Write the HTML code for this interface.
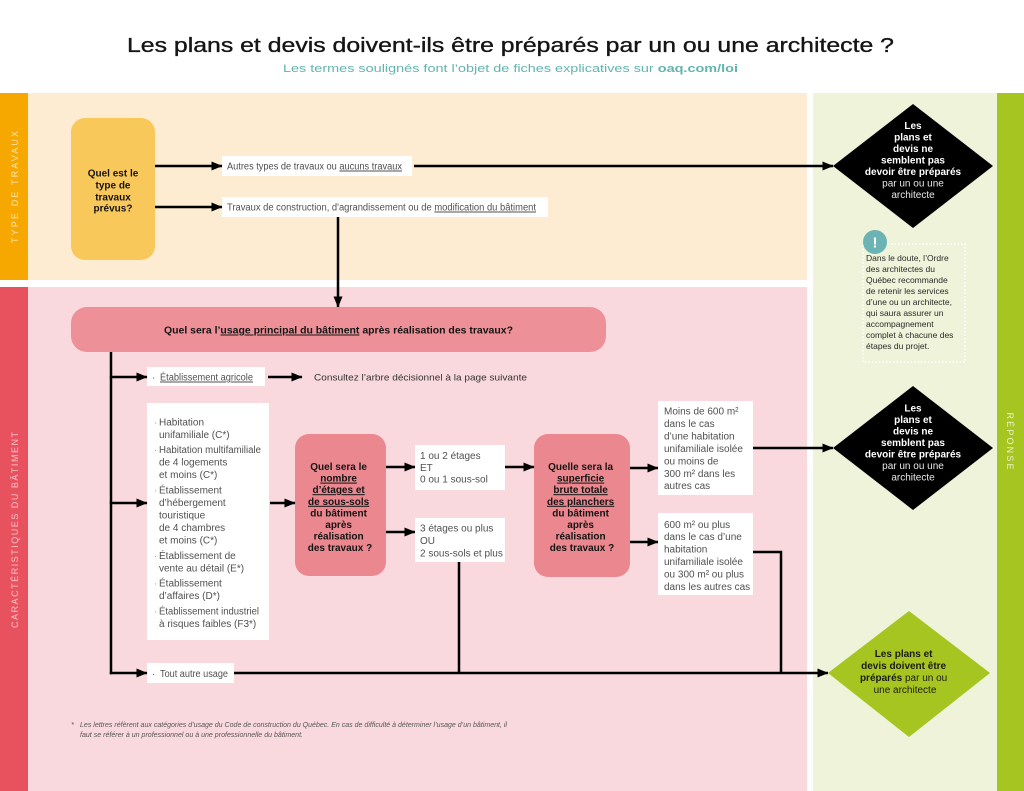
<!DOCTYPE html>
<html><head><meta charset="utf-8">
<style>
html,body{margin:0;padding:0;background:#fff;}
svg{display:block;}
.t{font-family:"Liberation Sans",sans-serif;}
.g{font-family:"Liberation Sans",sans-serif;font-size:10px;fill:#505050;}
.b{font-family:"Liberation Sans",sans-serif;font-size:10px;font-weight:bold;fill:#141414;text-anchor:middle;}
.dw{font-family:"Liberation Sans",sans-serif;font-size:10px;font-weight:bold;fill:#fff;text-anchor:middle;}
.dl{font-family:"Liberation Sans",sans-serif;font-size:10px;fill:#e8e8e8;text-anchor:middle;}
.u{text-decoration:underline;}
</style></head><body>
<svg width="1024" height="791" viewBox="0 0 1024 791" xmlns="http://www.w3.org/2000/svg">
<defs>
<marker id="a" markerUnits="userSpaceOnUse" markerWidth="11" markerHeight="9" refX="10.5" refY="4.5" orient="auto"><path d="M0,0 L11,4.5 L0,9 z" fill="#000"/></marker>
</defs>
<rect width="1024" height="791" fill="#fff"/>

<!-- Title -->
<text x="127" y="52" class="t" font-size="20" fill="#151515" stroke="#151515" stroke-width="0.35" textLength="767" lengthAdjust="spacingAndGlyphs">Les plans et devis doivent-ils être préparés par un ou une architecte ?</text>
<text x="283" y="72" class="t" font-size="11" fill="#62b4ae" textLength="455" lengthAdjust="spacingAndGlyphs">Les termes soulignés font l’objet de fiches explicatives sur <tspan font-weight="bold">oaq.com/loi</tspan></text>

<!-- Backgrounds -->
<rect x="0" y="93" width="28" height="187" fill="#f6a800"/>
<rect x="28" y="93" width="779" height="187" fill="#fdecd1"/>
<rect x="0" y="287" width="28" height="504" fill="#e8525e"/>
<rect x="28" y="287" width="779" height="504" fill="#f9d9dd"/>
<rect x="813" y="93" width="184" height="698" fill="#eef3d9"/>
<rect x="997" y="93" width="27" height="698" fill="#a7c520"/>

<!-- Side labels -->
<text transform="translate(18,187) rotate(-90)" class="t" font-size="9" fill="#fde6ad" text-anchor="middle" textLength="112" lengthAdjust="spacing">TYPE DE TRAVAUX</text>
<text transform="translate(18,530) rotate(-90)" class="t" font-size="9" fill="#f8c3c8" text-anchor="middle" textLength="196" lengthAdjust="spacing">CARACTÉRISTIQUES DU BÂTIMENT</text>
<text transform="translate(1007,441) rotate(90)" class="t" font-size="9" fill="#eaf2c8" text-anchor="middle" textLength="57" lengthAdjust="spacing">RÉPONSE</text>

<!-- Orange question box -->
<rect x="71" y="118" width="84" height="142" rx="14" fill="#f8c85b"/>
<text class="b"><tspan x="113" y="176.5">Quel est le</tspan><tspan x="113" y="188.5">type de</tspan><tspan x="113" y="200.5">travaux</tspan><tspan x="113" y="211.5">prévus?</tspan></text>

<!-- Top labels -->
<rect x="222" y="156" width="190" height="20" fill="#fff"/>
<text x="227" y="169.5" class="g" textLength="175" lengthAdjust="spacingAndGlyphs">Autres types de travaux ou <tspan class="u">aucuns travaux</tspan></text>
<rect x="222" y="197" width="326" height="20" fill="#fff"/>
<text x="227" y="210.5" class="g" textLength="309" lengthAdjust="spacingAndGlyphs">Travaux de construction, d'agrandissement ou de <tspan class="u">modification du bâtiment</tspan></text>

<!-- Pink main question -->
<rect x="71" y="307" width="535" height="45" rx="16" fill="#ee9097"/>
<text x="164" y="333.5" class="t" font-size="10" font-weight="bold" fill="#141414" textLength="349" lengthAdjust="spacingAndGlyphs">Quel sera l’<tspan class="u">usage principal du bâtiment</tspan> après réalisation des travaux?</text>

<!-- Etablissement agricole -->
<rect x="147" y="367" width="118" height="19" fill="#fff"/>
<text x="152" y="380.5" class="g" fill="#888">·</text>
<text x="160" y="380.5" class="g" textLength="93" lengthAdjust="spacingAndGlyphs"><tspan class="u">Établissement agricole</tspan></text>
<text x="314" y="380.5" class="t" font-size="9.5" fill="#333" textLength="213" lengthAdjust="spacingAndGlyphs">Consultez l’arbre décisionnel à la page suivante</text>

<!-- List box -->
<rect x="147" y="403" width="122" height="237" fill="#fff"/>
<g class="g">
<text x="154" y="425.5" fill="#999">·</text>
<text x="159" y="425.5">Habitation</text>
<text x="159" y="438">unifamiliale (C*)</text>
<text x="154" y="453" fill="#999">·</text>
<text x="159" y="453" textLength="102" lengthAdjust="spacingAndGlyphs">Habitation multifamiliale</text>
<text x="159" y="465.5">de 4 logements</text>
<text x="159" y="478">et moins (C*)</text>
<text x="154" y="493.5" fill="#999">·</text>
<text x="159" y="493.5">Établissement</text>
<text x="159" y="506">d’hébergement</text>
<text x="159" y="518.5">touristique</text>
<text x="159" y="531">de 4 chambres</text>
<text x="159" y="543.5">et moins (C*)</text>
<text x="154" y="559" fill="#999">·</text>
<text x="159" y="559">Établissement de</text>
<text x="159" y="571.5">vente au détail (E*)</text>
<text x="154" y="586.5" fill="#999">·</text>
<text x="159" y="586.5">Établissement</text>
<text x="159" y="599">d’affaires (D*)</text>
<text x="154" y="614.5" fill="#999">·</text>
<text x="159" y="614.5" textLength="100" lengthAdjust="spacingAndGlyphs">Établissement industriel</text>
<text x="159" y="627">à risques faibles (F3*)</text>
</g>

<!-- Pink box 2 -->
<rect x="295" y="434" width="91" height="142" rx="14" fill="#ea878f"/>
<text class="b">
<tspan x="340" y="470">Quel sera le</tspan>
<tspan x="340" y="481.6" class="u">nombre</tspan>
<tspan x="340" y="493.2" class="u">d’étages et</tspan>
<tspan x="340" y="504.8" class="u">de sous-sols</tspan>
<tspan x="340" y="516.4">du bâtiment</tspan>
<tspan x="340" y="528">après</tspan>
<tspan x="340" y="539.6">réalisation</tspan>
<tspan x="340" y="551.2">des travaux ?</tspan>
</text>

<!-- Boxes E/F -->
<rect x="415" y="445" width="90" height="45" fill="#fff"/>
<text class="g"><tspan x="420" y="459">1 ou 2 étages</tspan><tspan x="420" y="471">ET</tspan><tspan x="420" y="482.5">0 ou 1 sous-sol</tspan></text>
<rect x="415" y="518" width="90" height="44" fill="#fff"/>
<text class="g"><tspan x="420" y="531.5">3 étages ou plus</tspan><tspan x="420" y="544">OU</tspan><tspan x="420" y="556.5">2 sous-sols et plus</tspan></text>

<!-- Pink box 3 -->
<rect x="534" y="434" width="96" height="143" rx="14" fill="#ea878f"/>
<text class="b">
<tspan x="582" y="470">Quelle sera la</tspan>
<tspan x="582" y="481.6" class="u">superficie</tspan>
<tspan x="582" y="493.2" class="u">brute totale</tspan>
<tspan x="582" y="504.8" class="u">des planchers</tspan>
<tspan x="582" y="516.4">du bâtiment</tspan>
<tspan x="582" y="528">après</tspan>
<tspan x="582" y="539.6">réalisation</tspan>
<tspan x="582" y="551.2">des travaux ?</tspan>
</text>

<!-- Boxes G/H -->
<rect x="658" y="401" width="95" height="94" fill="#fff"/>
<text class="g"><tspan x="664" y="414.5">Moins de 600 m²</tspan><tspan x="664" y="427">dans le cas</tspan><tspan x="664" y="439.5">d’une habitation</tspan><tspan x="664" y="452">unifamiliale isolée</tspan><tspan x="664" y="464.5">ou moins de</tspan><tspan x="664" y="477">300 m² dans les</tspan><tspan x="664" y="489">autres cas</tspan></text>
<rect x="658" y="513" width="95" height="82" fill="#fff"/>
<text class="g"><tspan x="664" y="528">600 m² ou plus</tspan><tspan x="664" y="540">dans le cas d’une</tspan><tspan x="664" y="552.5">habitation</tspan><tspan x="664" y="565">unifamiliale isolée</tspan><tspan x="664" y="577.5">ou 300 m² ou plus</tspan><tspan x="664" y="590">dans les autres cas</tspan></text>

<!-- Tout autre usage -->
<rect x="147" y="663" width="87" height="20" fill="#fff"/>
<text x="152" y="677" class="g" fill="#888">·</text>
<text x="160" y="677" class="g" font-size="10.5" textLength="68" lengthAdjust="spacingAndGlyphs">Tout autre usage</text>

<!-- Footnote -->
<text x="71" y="727" class="t" font-size="7.5" font-style="italic" fill="#555">*</text>
<text x="80" y="727" class="t" font-size="7.5" font-style="italic" fill="#555" textLength="427" lengthAdjust="spacingAndGlyphs">Les lettres réfèrent aux catégories d’usage du Code de construction du Québec. En cas de difficulté à déterminer l’usage d’un bâtiment, il</text>
<text x="80" y="737" class="t" font-size="7.5" font-style="italic" fill="#555" textLength="223" lengthAdjust="spacingAndGlyphs">faut se référer à un professionnel ou à une professionnelle du bâtiment.</text>

<!-- Connectors -->
<g stroke="#000" stroke-width="2.5" fill="none">
<line x1="155" y1="166" x2="222" y2="166" marker-end="url(#a)"/>
<line x1="414" y1="166" x2="833" y2="166" marker-end="url(#a)"/>
<line x1="155" y1="207" x2="222" y2="207" marker-end="url(#a)"/>
<line x1="338" y1="217" x2="338" y2="307" marker-end="url(#a)"/>
<line x1="111" y1="352" x2="111" y2="674.2"/>
<line x1="109.8" y1="377" x2="147" y2="377" marker-end="url(#a)"/>
<line x1="268" y1="377" x2="302" y2="377" marker-end="url(#a)"/>
<line x1="109.8" y1="503" x2="147" y2="503" marker-end="url(#a)"/>
<line x1="270" y1="503" x2="295" y2="503" marker-end="url(#a)"/>
<line x1="386" y1="467" x2="415" y2="467" marker-end="url(#a)"/>
<line x1="386" y1="532" x2="415" y2="532" marker-end="url(#a)"/>
<line x1="505" y1="467" x2="534" y2="467" marker-end="url(#a)"/>
<line x1="459" y1="562" x2="459" y2="673"/>
<line x1="630" y1="468" x2="658" y2="468" marker-end="url(#a)"/>
<line x1="630" y1="542" x2="658" y2="542" marker-end="url(#a)"/>
<line x1="753" y1="448" x2="833" y2="448" marker-end="url(#a)"/>
<polyline points="753,552 781,552 781,673"/>
<line x1="109.8" y1="673" x2="147" y2="673" marker-end="url(#a)"/>
<line x1="234" y1="673" x2="828" y2="673" marker-end="url(#a)"/>
</g>

<!-- Diamond 1 -->
<polygon points="833,166 913,104 993,166 913,228" fill="#000"/>
<text class="dw"><tspan x="913" y="129">Les</tspan><tspan x="913" y="140.5">plans et</tspan><tspan x="913" y="152">devis ne</tspan><tspan x="913" y="163.5">semblent pas</tspan><tspan x="913" y="175">devoir être préparés</tspan></text>
<text class="dl"><tspan x="913" y="186.5">par un ou une</tspan><tspan x="913" y="198">architecte</tspan></text>

<!-- Note -->
<rect x="863" y="244" width="102" height="118" fill="none" stroke="#fff" stroke-width="1.5" stroke-dasharray="1.5 2"/>
<circle cx="875" cy="242" r="12" fill="#6cb3b6"/>
<text x="875" y="247.5" class="t" font-size="15" font-weight="bold" fill="#fff" text-anchor="middle">!</text>
<text class="t" font-size="8.5" fill="#2a2a2a">
<tspan x="866" y="261">Dans le doute, l’Ordre</tspan>
<tspan x="866" y="272">des architectes du</tspan>
<tspan x="866" y="283">Québec recommande</tspan>
<tspan x="866" y="294">de retenir les services</tspan>
<tspan x="866" y="305">d’une ou un architecte,</tspan>
<tspan x="866" y="316">qui saura assurer un</tspan>
<tspan x="866" y="327">accompagnement</tspan>
<tspan x="866" y="338">complet à chacune des</tspan>
<tspan x="866" y="349">étapes du projet.</tspan>
</text>

<!-- Diamond 2 -->
<polygon points="833,448 913,386 993,448 913,510" fill="#000"/>
<text class="dw"><tspan x="913" y="411.5">Les</tspan><tspan x="913" y="423">plans et</tspan><tspan x="913" y="434.5">devis ne</tspan><tspan x="913" y="446">semblent pas</tspan><tspan x="913" y="457.5">devoir être préparés</tspan></text>
<text class="dl"><tspan x="913" y="469">par un ou une</tspan><tspan x="913" y="480.5">architecte</tspan></text>

<!-- Green diamond -->
<polygon points="828,673 909,611 990,673 909,737" fill="#a7c520"/>
<text class="t" font-size="10" fill="#1a1a1a" text-anchor="middle">
<tspan x="905" y="657" font-weight="bold">Les plans et</tspan>
<tspan x="905" y="669" font-weight="bold">devis doivent être</tspan>
<tspan x="905" y="681"><tspan font-weight="bold">préparés</tspan> par un ou</tspan>
<tspan x="905" y="693">une architecte</tspan>
</text>
</svg>
</body></html>
